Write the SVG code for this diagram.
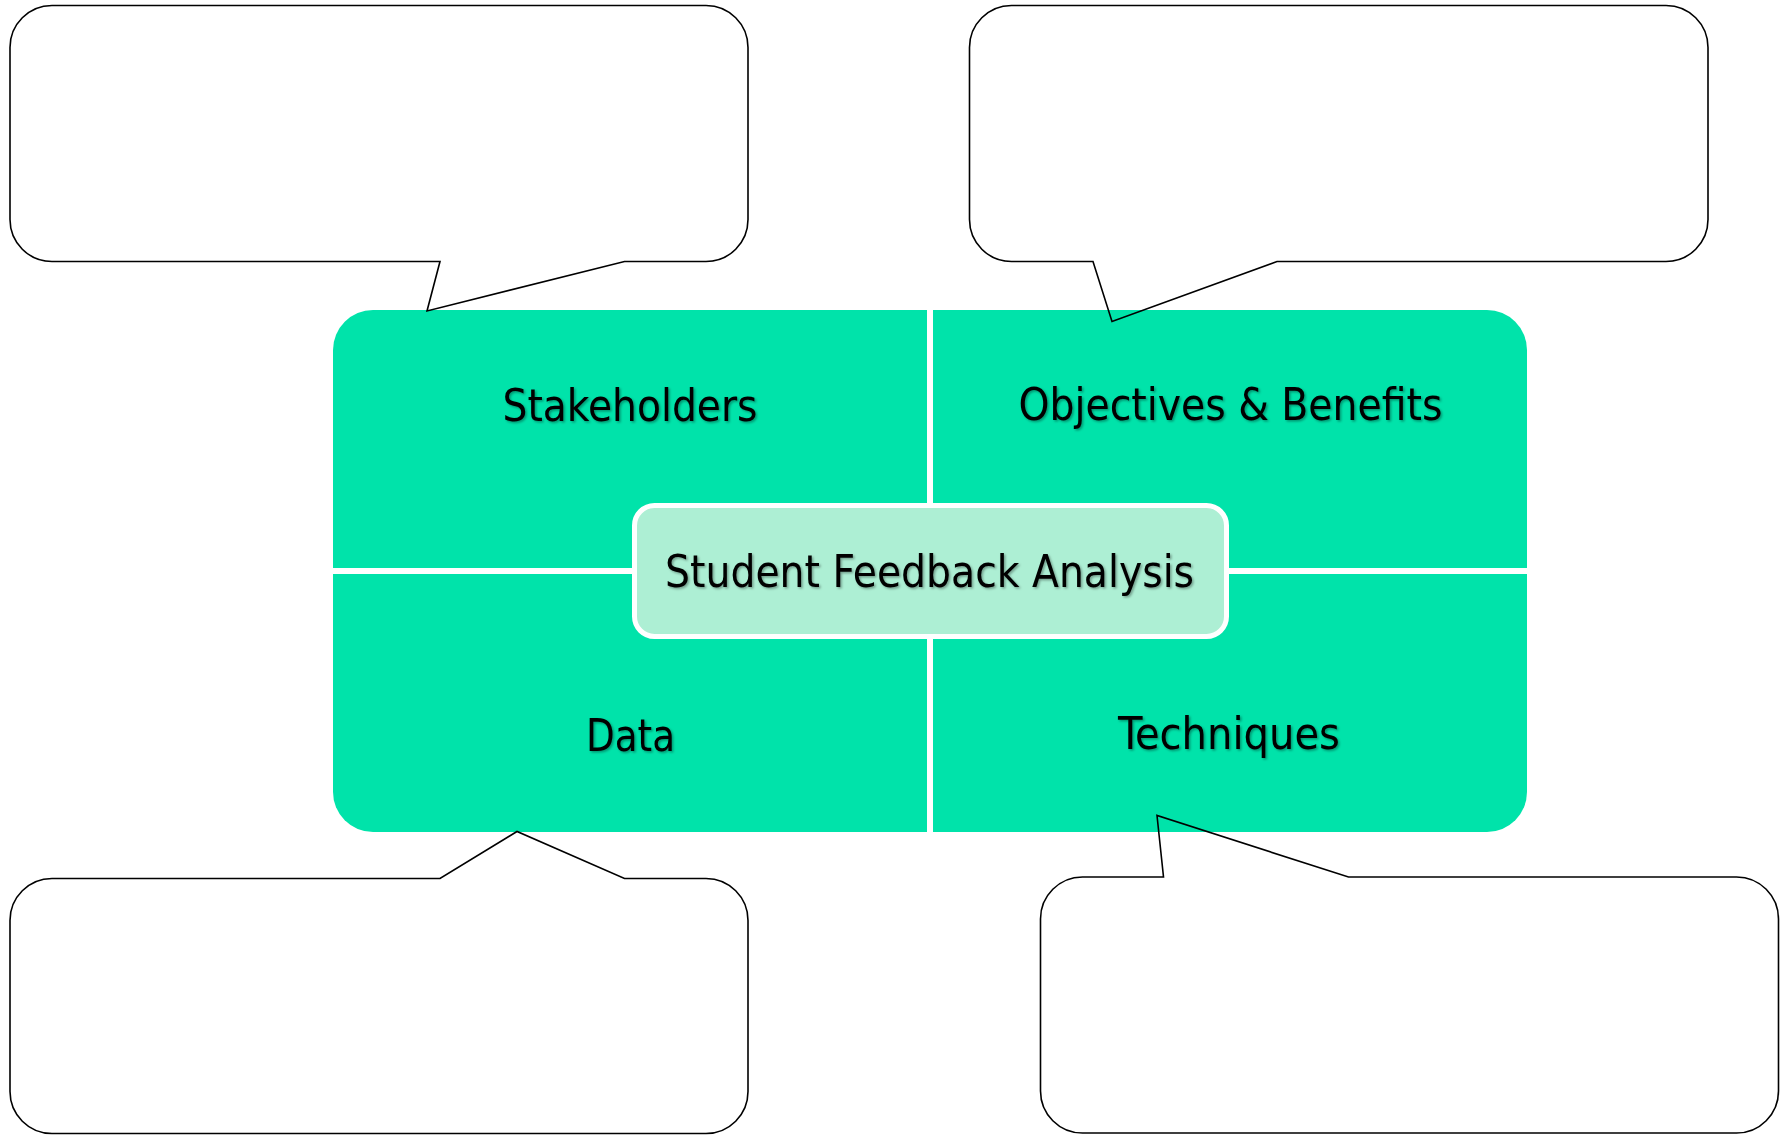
<svg xmlns="http://www.w3.org/2000/svg" width="1791" height="1135" viewBox="0 0 1791 1135">
  <defs>
    <filter id="shadow" x="-10%" y="-30%" width="120%" height="160%">
      <feDropShadow dx="1.5" dy="1.5" stdDeviation="1.2" flood-color="#000" flood-opacity="0.35"/>
    </filter>
    <style>
      .quad { fill: #00E3AA; }
      .bubble { fill: none; stroke: #000; stroke-width: 1.6; stroke-linejoin: miter; }
      .label { font-family: "DejaVu Sans Condensed", "DejaVu Sans", Tahoma, sans-serif; font-size: 45px; fill: #000; text-anchor: middle; filter: url(#shadow); }
      .center { fill: #ADEFD4; stroke: #FFFFFF; stroke-width: 5; }
    </style>
  </defs>
  <rect x="0" y="0" width="1791" height="1135" fill="#FFFFFF"/>

  <g id="quad-stakeholders">
    <path class="quad" d="M 373,310 H 927 V 568 H 333 V 350 A 40 40 0 0 1 373 310 Z"/>
    <text class="label" x="630" y="421" textLength="255" lengthAdjust="spacingAndGlyphs">Stakeholders</text>
  </g>
  <g id="quad-objectives">
    <path class="quad" d="M 933,310 H 1487 A 40 40 0 0 1 1527 350 V 568 H 933 Z"/>
    <text class="label" x="1230.5" y="420" textLength="424" lengthAdjust="spacingAndGlyphs">Objectives &amp; Benefits</text>
  </g>
  <g id="quad-data">
    <path class="quad" d="M 333,574 H 927 V 832 H 373 A 40 40 0 0 1 333 792 Z"/>
    <text class="label" x="630.5" y="751" textLength="89" lengthAdjust="spacingAndGlyphs">Data</text>
  </g>
  <g id="quad-techniques">
    <path class="quad" d="M 933,574 H 1527 V 792 A 40 40 0 0 1 1487 832 H 933 Z"/>
    <text class="label" x="1229" y="749" textLength="222" lengthAdjust="spacingAndGlyphs">Techniques</text>
  </g>

  <g id="center-node">
    <rect class="center" x="634.5" y="505.5" width="592" height="131" rx="20" ry="20"/>
    <text class="label" x="929.6" y="587" textLength="529" lengthAdjust="spacingAndGlyphs">Student Feedback Analysis</text>
  </g>

  <g id="bubble-top-left">
    <path class="bubble" d="M 52,5.5 H 706 A 42 42 0 0 1 748 47.5 V 219.5 A 42 42 0 0 1 706 261.5 H 624.5 L 427 311 L 440 261.5 H 52 A 42 42 0 0 1 10 219.5 V 47.5 A 42 42 0 0 1 52 5.5 Z"/>
  </g>
  <g id="bubble-top-right">
    <path class="bubble" d="M 1011.5,5.5 H 1666 A 42 42 0 0 1 1708 47.5 V 219.5 A 42 42 0 0 1 1666 261.5 H 1277 L 1112 321.5 L 1093 261.5 H 1011.5 A 42 42 0 0 1 969.5 219.5 V 47.5 A 42 42 0 0 1 1011.5 5.5 Z"/>
  </g>
  <g id="bubble-bottom-left">
    <path class="bubble" d="M 52,878.5 H 440 L 517 831.5 L 624.5 878.5 H 706 A 42 42 0 0 1 748 920.5 V 1091.5 A 42 42 0 0 1 706 1133.5 H 52 A 42 42 0 0 1 10 1091.5 V 920.5 A 42 42 0 0 1 52 878.5 Z"/>
  </g>
  <g id="bubble-bottom-right">
    <path class="bubble" d="M 1082.5,877 H 1163.5 L 1157 815.5 L 1348.5 877 H 1736.5 A 42 42 0 0 1 1778.5 919 V 1091 A 42 42 0 0 1 1736.5 1133 H 1082.5 A 42 42 0 0 1 1040.5 1091 V 919 A 42 42 0 0 1 1082.5 877 Z"/>
  </g>
</svg>
